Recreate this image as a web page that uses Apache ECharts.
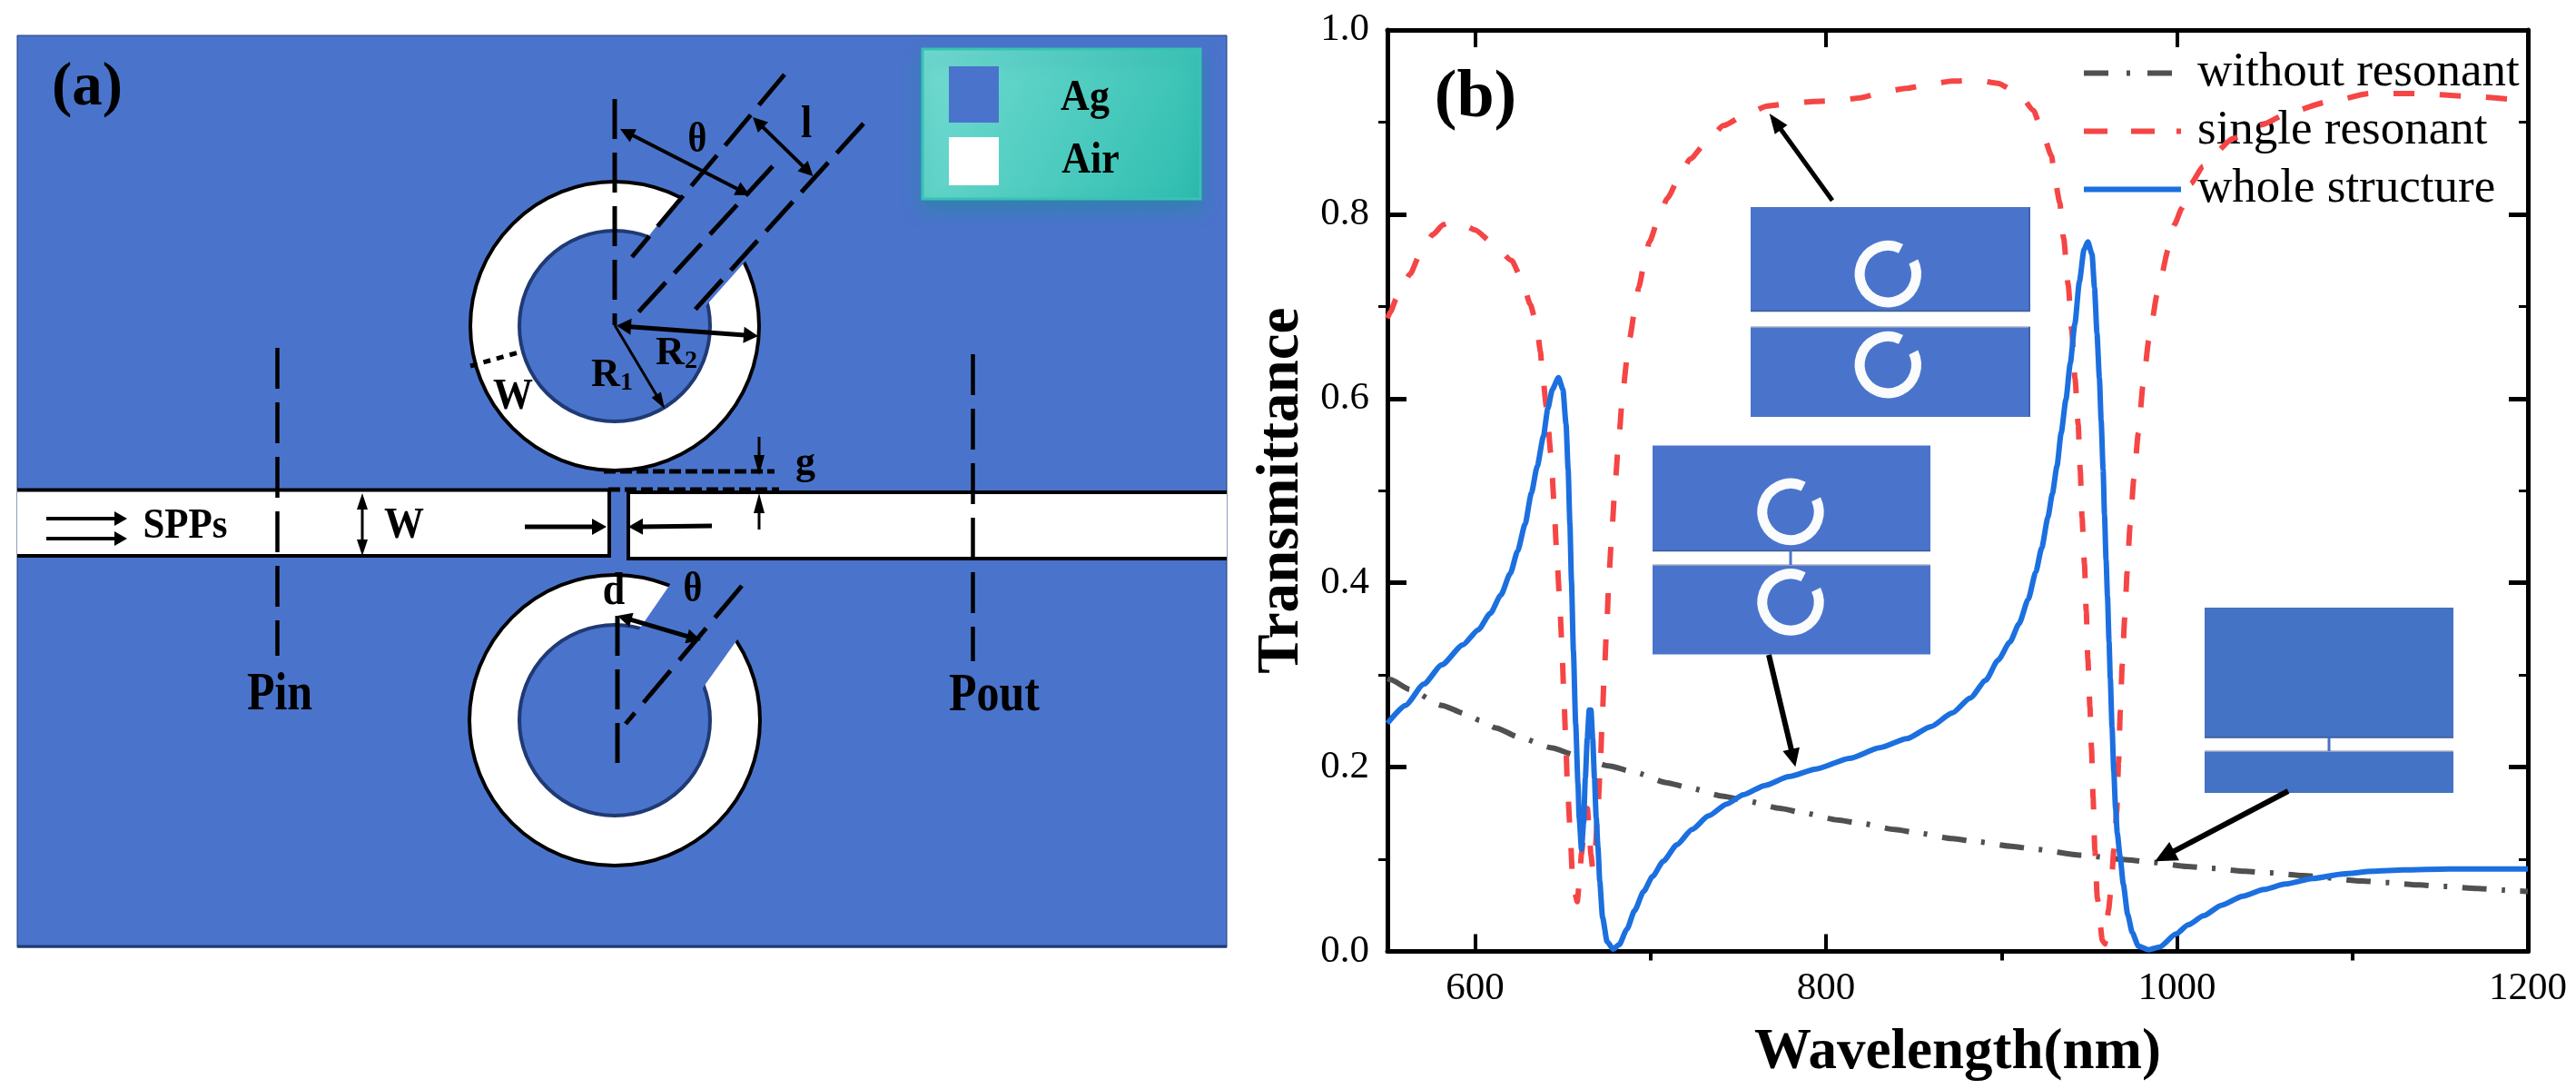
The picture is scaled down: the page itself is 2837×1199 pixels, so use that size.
<!DOCTYPE html>
<html>
<head>
<meta charset="utf-8">
<style>html,body{margin:0;padding:0;background:#fff}#c{width:2837px;height:1199px}</style>
<script src="https://cdn.jsdelivr.net/npm/echarts@6/dist/echarts.min.js"></script>
</head>
<body>
<div id="c"></div>
<script>
const seriesNames = ['without resonant', 'single resonant', 'whole structure'];
const xMajor = [600, 800, 1000, 1200];
const xMinor = [700, 900, 1100];
const yMajor = [0, 0.2, 0.4, 0.6, 0.8, 1.0];
const yMinor = [0.1, 0.3, 0.5, 0.7, 0.9];

const withoutCurve = [[550,.296],[551.7,.2949],[562.9,.2841],[581,.267],[594.5,.2578],[602.8,.2506],[611.8,.2425],[625,.2325],[644,.2208],[656.4,.2135],[676.1,.2013],[690,.195],[709,.1832],[721.8,.1776],[741.6,.1684],[754.6,.1634],[773.6,.1552],[787.4,.1503],[806.3,.1427],[820.2,.1388],[839.1,.1323],[852.9,.1283],[871.9,.1224],[885.7,.1191],[905.5,.1141],[919.3,.1109],[945,.1045],[971.9,.0994],[985.7,.0968],[1005.6,.0922],[1019.5,.0902],[1038.8,.0869],[1053,.0853],[1072,.0823],[1105.7,.0764],[1119,.0747],[1138.5,.0721],[1152,.0705],[1171.5,.0682],[1186,.0665],[1195,.0655],[1200,.065]];

const singleCurve = [[550,.687],[551.7,.6941],[555.2,.7089],[563,.7352],[568.1,.7549],[575.9,.778],[581.9,.7888],[587,.792],[593,.789],[600,.7829],[609.5,.7696],[620.7,.75],[626.8,.7286],[631.4,.7023],[634.9,.681],[637.2,.6514],[638,.6353],[640.6,.591],[643.2,.5397],[644.9,.4887],[646.3,.4388],[648,.3876],[649.3,.3376],[650.4,.2866],[651.5,.2358],[652.5,.1848],[654,.1355],[655.4,.0846],[657,.062],[658.2,.054],[659.4,.075],[660.6,.106],[662.5,.14],[664,.155],[665,.13],[666,.105],[667,.09],[668.3,.106],[670,.1552],[671.4,.2052],[672.5,.2572],[673.7,.3064],[675.1,.3573],[676.3,.4083],[678,.4582],[679.8,.5084],[682,.5594],[684.2,.6087],[687.1,.652],[688,.665],[691.4,.7007],[693.2,.7204],[696.6,.7484],[699.2,.7696],[704.7,.796],[709.5,.8173],[716.4,.8403],[722.5,.86],[732.5,.8797],[741.5,.8962],[755.3,.9093],[766.5,.9175],[781.2,.9208],[793.2,.9224],[808,.9234],[819.3,.9264],[834,.9333],[845.5,.9366],[860.2,.9415],[871.9,.9445],[886.6,.9455],[897.8,.9422],[910.2,.9307],[918.2,.9125],[924,.8847],[928.5,.8633],[930.6,.8354],[933.2,.8125],[935.4,.774],[938,.7237],[940,.6747],[941.9,.6218],[943.7,.572],[944.9,.5216],[945.9,.4707],[947.3,.4198],[948.3,.3688],[949.2,.318],[950.4,.265],[951.3,.22],[952.2,.167],[953.2,.11],[954.6,.058],[957.5,.012],[959,.008],[961,.045],[962.5,.07],[964,.11],[965.7,.152],[966.7,.205],[967.7,.26],[968.8,.3107],[970.2,.3613],[971.6,.4115],[973.3,.4625],[975.4,.5124],[978,.5626],[980.6,.6136],[984,.6639],[988.8,.7138],[995.2,.7625],[998.3,.788],[1003,.807],[1007.8,.833],[1015,.852],[1022,.867],[1031.5,.882],[1048,.897],[1064.8,.911],[1086,.922],[1110,.931],[1138,.931],[1166.7,.928],[1200,.923]];

const wholeCurve = [[550,.2475],[560.3,.267],[570.7,.29],[581,.311],[593,.3327],[601.8,.349],[608.7,.367],[614.7,.387],[620,.41],[624.2,.4345],[628.5,.464],[632,.497],[635.4,.5266],[638.9,.559],[641.4,.589],[644,.61],[647.5,.6228],[650,.61],[651.8,.5725],[653,.523],[654,.464],[654.9,.4017],[656,.326],[657.3,.247],[658.6,.182],[659.3,.145],[660.6,.111],[661.8,.139],[662.8,.188],[663.9,.231],[665,.262],[666,.262],[667,.231],[668,.188],[669,.145],[670,.113],[671,.0764],[672.6,.037],[675.2,.0107],[678.7,.0025],[682.1,.0074],[686.5,.024],[690.8,.044],[696,.065],[701.1,.0813],[707.2,.0978],[715,.1158],[723.6,.1323],[733,.147],[743.4,.16],[752.9,.17],[765,.18],[778.8,.1897],[794.3,.198],[813.3,.2095],[830.5,.221],[846,.2308],[859.8,.244],[871.9,.2587],[882.2,.275],[891,.2942],[898,.316],[904.9,.336],[910,.3557],[915.2,.382],[919.5,.4115],[922.9,.4378],[926.4,.4707],[929,.497],[931.6,.5266],[934,.5626],[936.7,.5988],[939.2,.6383],[941.8,.681],[944.4,.727],[947,.7614],[949.2,.77],[951.6,.7565],[953,.7204],[954.4,.671],[955.8,.6218],[956.8,.5758],[957.9,.5232],[958.7,.4739],[959.6,.4246],[960.4,.3852],[961.3,.3359],[962,.2965],[963,.243],[964,.195],[965,.155],[966,.128],[967.6,.1027],[969.4,.0731],[971.9,.0402],[974.5,.0205],[978,.0057],[984,.0018],[990,.0047],[999.5,.0189],[1006.4,.0288],[1015.1,.0386],[1025.4,.0501],[1037.5,.0599],[1049.6,.0672],[1061.7,.0731],[1077.3,.079],[1094.5,.084],[1111.7,.0869],[1129,.0885],[1154.9,.0895],[1200,.0895]];

const SERIF = '"Liberation Serif","Times New Roman",serif';
const BLUE = '#4A74CC', NAVY = '#1F3A74', K = '#000';

/* ---------- drawing helpers for the schematic ---------- */
const Z = 10;
function line(x1, y1, x2, y2, w, dash, col) {
  return {type:'line', z:Z, shape:{x1,y1,x2,y2}, style:{stroke:col||K, lineWidth:w, lineDash:dash||null, fill:null}};
}
function head(x2, y2, ux, uy, hl, hw) {
  const bx = x2 - ux*hl, by = y2 - uy*hl;
  return {type:'polygon', z:Z, shape:{points:[[x2,y2],[bx-uy*hw/2,by+ux*hw/2],[bx+uy*hw/2,by-ux*hw/2]]}, style:{fill:K}};
}
function arrow(x1, y1, x2, y2, w, hl, hw, both) {
  const L = Math.hypot(x2-x1, y2-y1), ux = (x2-x1)/L, uy = (y2-y1)/L;
  const out = [line(both?x1+ux*hl*.7:x1, both?y1+uy*hl*.7:y1, x2-ux*hl*.7, y2-uy*hl*.7, w), head(x2,y2,ux,uy,hl,hw)];
  if (both) out.push(head(x1,y1,-ux,-uy,hl,hw));
  return out;
}
function label(text, x, y, size, sy) {
  return {type:'text', z:Z, x, y, scaleY:sy||1, style:{text, x:0, y:0, fill:K, font:'bold '+size+'px '+SERIF,
    align:'center', verticalAlign:'middle', textAlign:'center', textVerticalAlign:'middle'}};
}
function sub(a, b, x, y) {
  return {type:'text', z:Z, style:{text:'{a|'+a+'}{b|'+b+'}', x, y, align:'center', verticalAlign:'middle',
    rich:{a:{font:'bold 44px '+SERIF, fill:K, verticalAlign:'bottom'}, b:{font:'bold 28px '+SERIF, fill:K, verticalAlign:'bottom'}}}};
}
function rect(x, y, w, h, fill, extra) {
  return Object.assign({type:'rect', z:Z, shape:{x,y,width:w,height:h}, style:{fill}}, extra||{});
}
function poly(points, fill) { return {type:'polygon', z:Z, shape:{points}, style:{fill}}; }
function ring(cx, cy, R, r, sw) {
  return [
    {type:'circle', z:Z, shape:{cx,cy,r:R}, style:{fill:'#fff', stroke:K, lineWidth:sw}},
    {type:'circle', z:Z, shape:{cx,cy,r}, style:{fill:BLUE, stroke:NAVY, lineWidth:sw}}
  ];
}
function miniRing(cx, cy) {
  const d = Math.PI/180;
  return {type:'arc', z:Z, shape:{cx, cy, r:31.2, startAngle:-26*d, endAngle:297*d, clockwise:true},
    style:{stroke:'#FAFBFD', lineWidth:11, fill:null, lineCap:'butt'}};
}
function inset(x, y, w, h, wgTop, wgBot, fill, rings, slitX, edge) {
  const out = [rect(x, y, w, h, fill), rect(x, wgTop, w, wgBot-wgTop, '#fff'),
    line(x, wgTop, x+w, wgTop, 1.5, null, '#3A5A9A'), line(x, wgBot, x+w, wgBot, 1.5, null, '#A8B0C0')];
  if (slitX) out.push(rect(slitX-1.5, wgTop, 3, wgBot-wgTop, fill));
  if (edge) out.push(line(x+w-1, y, x+w-1, wgTop, 2, null, '#3E62B0'), line(x+w-1, wgBot, x+w-1, y+h, 2, null, '#3E62B0'));
  rings.forEach(c => out.push(miniRing(c[0], c[1])));
  return out;
}

const schematic = [].concat(
  /* panel (a) */
  [rect(19, 39, 1332, 1004, BLUE, {style:{fill:BLUE, stroke:NAVY, lineWidth:1}}),
   line(19, 1042, 1351, 1042, 3, null, NAVY)],
  /* waveguide */
  [rect(19, 539.5, 652, 72.5, '#fff'), rect(692, 542, 659, 73, '#fff'),
   {type:'polyline', z:Z, shape:{points:[[19,539.5],[671,539.5],[671,612],[19,612]]}, style:{stroke:K, lineWidth:4, fill:null}},
   {type:'polyline', z:Z, shape:{points:[[1351,542],[692,542],[692,615],[1351,615]]}, style:{stroke:K, lineWidth:4, fill:null}}],
  /* rings */
  ring(677, 359, 159, 105, 4),
  [poly([[700,278],[770,190],[850,255],[770,345]], BLUE)],
  ring(677, 793, 160, 105, 4),
  [poly([[690,713],[750,626],[835,672],[760,777]], BLUE)],
  /* dashed guides */
  [line(677,109,677,358,5,[44,15]),
   line(864,82,696,283,5,[44,14]),
   line(851,183,701,346,5,[44,14]),
   line(951,136,761,346,5,[44,14]),
   line(680,678,680,843,5,[44,15]),
   line(817,645,689,797,5,[46,15]),
   line(305.5,383,305.5,722,4.5,[45,15]),
   line(1071.5,390,1071.5,728,4.5,[45,15]),
   line(518,403,571,388,5,[8,7]),
   line(665,519,853,519,5,[13,5]),
   line(670,539,858,539,5,[13,5])],
  /* arrows */
  arrow(836,481,836,523,3,22,12),
  arrow(836,583,836,543,3,22,12),
  arrow(578,580,668,580,5,16,18),
  arrow(784,579,692,580,5,16,18),
  arrow(399,543,399,612,3,18,12,true),
  arrow(51,571,140,571,4,14,16),
  arrow(51,593,140,593,4,14,16),
  arrow(677,358,732,450,3,18,12),
  arrow(679,358.6,835,370,5,16,18,true),
  arrow(683,142,826,215,4,16,16,true),
  arrow(829,129,895.5,194,4,16,16,true),
  arrow(680,678,772,705,5,16,16,true),
  /* labels */
  [label('(a)',96,98,67),
   label('\u03B8',768,155,40,1.15),
   label('l',888,138,44,1.15),
   sub('R','2',745,390),
   sub('R','1',674,414),
   label('W',565,438,44,1.1),
   label('g',887,511,44),
   label('SPPs',204,580,43,1.1),
   label('W',445,580,44,1.1),
   label('d',676,652,44,1.15),
   label('\u03B8',763,650,40,1.15),
   label('Pin',308,766,50,1.17),
   label('Pout',1095,767,50,1.17)],
  /* material key */
  [rect(1016,54,306,165,'#000',{style:{
      fill:{type:'linear',x:0,y:0,x2:1,y2:1,colorStops:[{offset:0,color:'#74DCD2'},{offset:1,color:'#2DBDAF'}]},
      stroke:'#38C2B4', lineWidth:3, shadowBlur:18, shadowOffsetY:10, shadowColor:'rgba(30,140,150,0.55)'}}),
   rect(1045,73,55,62,BLUE),
   rect(1045,151,55,53,'#fff'),
   label('Ag',1195,109,44,1.1),
   label('Air',1201,178,44,1.1)],
  /* panel (b) annotations */
  [label('(b)',1625,109,74)],
  inset(1928,228,308,231,342.5,360,BLUE,[[2079.3,301.7],[2079.3,401.7]],null,true),
  inset(1820,490.6,306,230,606.5,622,BLUE,[[1972,563.5],[1972,663]],1972),
  inset(2428,669,274,204,812,827,'#4472C4',[],2565),
  arrow(2018,220.7,1948.7,125,5,22,17),
  arrow(1948,721,1977.3,844.3,6,20,19),
  arrow(2520,871,2373.3,948.3,6,24,23)
);

/* ---------- chart ---------- */
const XR = {min:550, max:1200, type:'value', splitLine:{show:false}};
const YR = {min:0, max:1, type:'value', splitLine:{show:false}};
const none = {show:false};
const axisLine = {show:true, onZero:false, lineStyle:{color:K, width:5}};
const END = 'M106.9,0H107V.1H106.9Z M106.9,5.9H107V6H106.9Z';
const legendIcons = [
  'path://M0,0H27V6H0Z M47,0H51V6H47Z M70,0H97V6H70Z ' + END,
  'path://M0,0H26V6H0Z M52,0H78V6H52Z M102,0H107V6H102Z',
  'path://M0,0H107V6H0Z'
];

const option = {
  backgroundColor:'#fff',
  animation:false,
  textStyle:{fontFamily:SERIF},
  grid:{left:1528, top:33, width:1256, height:1014.5, containLabel:false, outerBoundsMode:'none'},
  legend:{
    show:true, orient:'vertical', left:2290, top:49, itemWidth:107, itemHeight:6, itemGap:11,
    data:seriesNames.map((name, i) => ({name, icon:legendIcons[i]})), selectedMode:false,
    textStyle:{fontFamily:SERIF, fontSize:53, color:K, padding:[0,0,0,13]}
  },
  xAxis:[
    Object.assign({}, XR, {position:'bottom', axisLine,
      axisTick:{show:true, inside:true, length:19, customValues:xMajor, lineStyle:{color:K,width:4}},
      axisLabel:{show:true, customValues:xMajor, margin:20, color:K, fontSize:43, fontFamily:SERIF, formatter:v=>String(v)},
      name:'Wavelength(nm)', nameLocation:'center', nameGap:81,
      nameTextStyle:{fontFamily:SERIF, fontWeight:'bold', fontSize:63, color:K}}),
    Object.assign({}, XR, {position:'bottom', axisLine:none,
      axisTick:{show:true, inside:false, length:10, customValues:xMinor, lineStyle:{color:K,width:4}}, axisLabel:none}),
    Object.assign({}, XR, {position:'top', axisLine,
      axisTick:{show:true, inside:true, length:19, customValues:xMajor, lineStyle:{color:K,width:4}}, axisLabel:none}),
    Object.assign({}, XR, {position:'top', axisLine:none,
      axisTick:{show:true, inside:true, length:10, customValues:xMinor, lineStyle:{color:K,width:4}}, axisLabel:none})
  ],
  yAxis:[
    Object.assign({}, YR, {position:'left', axisLine,
      axisTick:{show:true, inside:true, length:21, customValues:yMajor, lineStyle:{color:K,width:5}},
      axisLabel:{show:true, customValues:yMajor, margin:20, color:K, fontSize:43, fontFamily:SERIF, formatter:v=>v.toFixed(1)},
      name:'Transmittance', nameLocation:'center', nameGap:83, nameRotate:90,
      nameTextStyle:{fontFamily:SERIF, fontWeight:'bold', fontSize:65, color:K}}),
    Object.assign({}, YR, {position:'left', axisLine:none,
      axisTick:{show:true, inside:false, length:10, customValues:yMinor, lineStyle:{color:K,width:3}}, axisLabel:none}),
    Object.assign({}, YR, {position:'right', axisLine,
      axisTick:{show:true, inside:true, length:21, customValues:yMajor, lineStyle:{color:K,width:5}}, axisLabel:none}),
    Object.assign({}, YR, {position:'right', axisLine:none,
      axisTick:{show:true, inside:true, length:10, customValues:yMinor, lineStyle:{color:K,width:3}}, axisLabel:none})
  ],
  series:[
    {name:seriesNames[0], type:'line', showSymbol:false, symbol:'none', z:3, data:withoutCurve,
     smooth:0.2, smoothMonotone:'x', lineStyle:{color:'#505050', width:6, type:[27,16.5,4,16.5]}, itemStyle:{color:'#505050'}},
    {name:seriesNames[1], type:'line', showSymbol:false, symbol:'none', z:4, data:singleCurve,
     smooth:0.2, smoothMonotone:'x', lineStyle:{color:'#F54545', width:6, type:[23,28]}, itemStyle:{color:'#F54545'}},
    {name:seriesNames[2], type:'line', showSymbol:false, symbol:'none', z:5, data:wholeCurve,
     smooth:0.2, smoothMonotone:'x', lineStyle:{color:'#1C6FDF', width:6}, itemStyle:{color:'#1C6FDF'}}
  ],
  graphic:{elements:schematic}
};
echarts.init(document.getElementById('c'), null, {renderer:'canvas'}).setOption(option);
</script>
</body>
</html>
